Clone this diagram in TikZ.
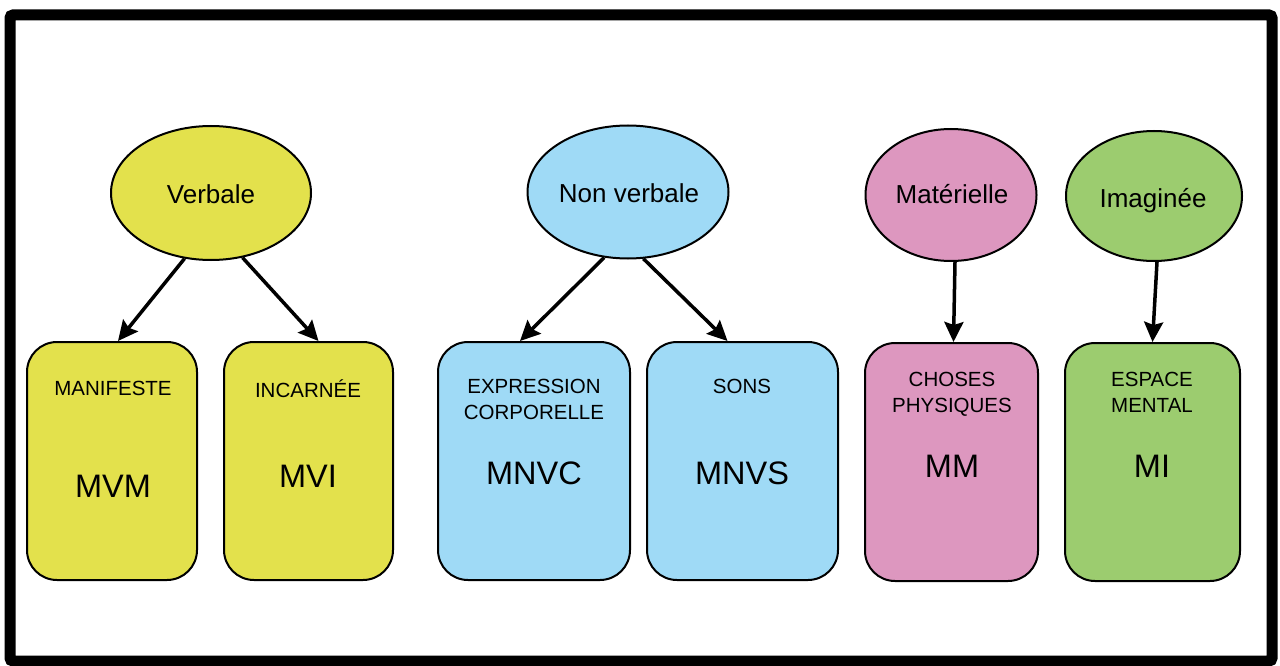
\documentclass[tikz,border=0pt]{standalone}
\usepackage{fontspec}
\setmainfont{Liberation Sans}
\usetikzlibrary{arrows.meta,shapes.geometric}
\definecolor{cyellow}{HTML}{E3E14C}
\definecolor{cblue}{HTML}{9FDAF6}
\definecolor{cpink}{HTML}{DD97BF}
\definecolor{cgreen}{HTML}{9CCC6F}
\tikzset{
  cat/.style={ellipse, draw=black, line width=2pt, inner sep=0pt,
    font=\fontsize{26}{31}\selectfont},
  mode/.style={draw=black, line width=2pt, rounded corners=30pt,
    minimum width=#1, minimum height=238pt, inner sep=0pt},
  small/.style={anchor=base, align=center, inner sep=0pt,
    font=\fontsize{20.5}{26}\selectfont},
  big/.style={anchor=base, inner sep=0pt, font=\fontsize{32.5}{38}\selectfont},
  catlbl/.style={anchor=base, inner sep=0pt, font=\fontsize{26}{31}\selectfont},
  link/.style={line width=3.5pt, -{Stealth[length=20pt,width=19pt,inset=3pt]}},
}
\begin{document}
\begin{tikzpicture}[x=1pt,y=-1pt]
\useasboundingbox (0,0) rectangle (1280,666);
% frame
\draw[line width=11pt, rounded corners=3pt] (10,15) rectangle (1272,661);

% category ellipses
\node[cat, fill=cyellow, minimum width=200pt, minimum height=134pt] (verb) at (211,193) {};
\node[cat, fill=cblue, minimum width=201pt, minimum height=133pt] (nonv) at (628,192) {};
\node[cat, fill=cpink, minimum width=171pt, minimum height=132pt] (mat) at (951,195) {};
\node[cat, fill=cgreen, minimum width=176pt, minimum height=130pt] (ima) at (1154,196) {};
\node[catlbl] (verbt) at (211,204) {Verbale};
\node[catlbl] (nonvt) at (629,202) {Non verbale};
\node[catlbl] (matt) at (952,203) {Matérielle};
\node[catlbl] (imat) at (1153,207) {Imaginée};

% mode boxes
\node[mode=170pt, fill=cyellow] (mvm) at (112,461) {};
\node[mode=169pt, fill=cyellow] (mvi) at (308.5,461) {};
\node[mode=192pt, fill=cblue] (mnvc) at (534,461) {};
\node[mode=191pt, fill=cblue] (mnvs) at (742.5,461) {};
\node[mode=173pt, fill=cpink] (mm) at (951.5,462) {};
\node[mode=175pt, fill=cgreen] (mi) at (1152.5,462) {};

% box texts (two-line labels sit on the baseline of their last line)
\node[small] (mvma) at (113,395) {MANIFESTE};
\node[big] (mvmb) at (113,497) {MVM};
\node[small] (mvia) at (308,397) {INCARNÉE};
\node[big] (mvib) at (308,487) {MVI};
\node[small] (mnvca) at (534,419) {EXPRESSION\\CORPORELLE};
\node[big] (mnvcb) at (534,484) {MNVC};
\node[small] (mnvsa) at (742,393) {SONS};
\node[big] (mnvsb) at (742,484) {MNVS};
\node[small] (mma) at (952,412) {CHOSES\\PHYSIQUES};
\node[big] (mmb) at (952,477) {MM};
\node[small] (mia) at (1152,412) {ESPACE\\MENTAL};
\node[big] (mib) at (1152,477) {MI};

% connectors
\draw[link] (verb.-112) -- ([xshift=6pt]mvm.north);
\draw[link] (verb.-64) -- ([xshift=10pt]mvi.north);
\draw[link] (nonv.-110) -- ([xshift=-14pt]mnvc.north);
\draw[link] (nonv.-77) -- ([xshift=-15pt]mnvs.north);
\draw[link] ([xshift=4pt]mat.south) -- ([xshift=2pt]mm.north);
\draw[link] ([xshift=3pt]ima.south) -- ([xshift=0pt]mi.north);
\end{tikzpicture}
\end{document}
